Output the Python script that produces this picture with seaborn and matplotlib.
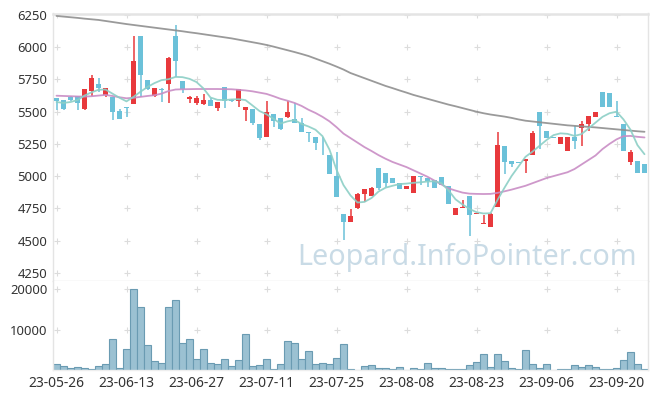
import numpy as np
import pandas as pd
import matplotlib
matplotlib.use("Agg")
import matplotlib.pyplot as plt
import seaborn as sns

# trading days (KRX calendar, holidays removed)
dates = pd.bdate_range("2023-05-26", "2023-09-26", freq="C",
                       holidays=["2023-05-29", "2023-06-06", "2023-08-15"])

open_p = [5605, 5588, 5617, 5619, 5518, 5658, 5712, 5632, 5611, 5505,
          5536, 5562, 6088, 5746, 5619, 5678, 5715, 6088, 5738, 5601,
          5570, 5562, 5591, 5531, 5691, 5590, 5585, 5513, 5518, 5404,
          5306, 5482, 5448, 5461, 5443, 5409, 5342, 5303, 5166, 5164,
          5000, 4706, 4646, 4750, 4858, 4843, 5063, 5021, 4983, 4944,
          4897, 4871, 4998, 4985, 4970, 4993, 4923, 4700, 4752, 4845,
          4703, 4628, 4607, 4762, 5233, 5117, 5101, 5119, 5163, 5500,
          5350, 5302, 5251, 5197, 5306, 5376, 5402, 5461, 5653, 5645,
          5468, 5404, 5112, 5117, 5094]
high_p = [5607, 5590, 5620, 5625, 5676, 5782, 5759, 5687, 5613, 5518,
          5537, 6088, 6088, 5748, 5681, 5680, 5927, 6174, 5740, 5619,
          5619, 5635, 5604, 5575, 5691, 5596, 5676, 5534, 5518, 5404,
          5580, 5482, 5448, 5585, 5570, 5448, 5342, 5303, 5300, 5164,
          5189, 4706, 4742, 4866, 4900, 4918, 5063, 5021, 4983, 4944,
          4923, 4998, 4998, 4985, 4970, 4995, 4923, 4755, 4812, 4845,
          4708, 4698, 4710, 5345, 5233, 5117, 5101, 5135, 5350, 5500,
          5350, 5302, 5301, 5301, 5392, 5428, 5466, 5497, 5653, 5645,
          5580, 5404, 5203, 5117, 5094]
low_p = [5515, 5510, 5585, 5510, 5516, 5622, 5656, 5611, 5435, 5446,
         5461, 5560, 5617, 5670, 5617, 5578, 5565, 5772, 5648, 5565,
         5549, 5552, 5547, 5508, 5531, 5578, 5539, 5430, 5397, 5280,
         5306, 5378, 5358, 5448, 5409, 5340, 5267, 5203, 5160, 5013,
         4840, 4504, 4646, 4745, 4796, 4843, 4892, 4918, 4944, 4897,
         4897, 4871, 4928, 4913, 4910, 4928, 4781, 4700, 4752, 4532,
         4703, 4628, 4607, 4760, 5016, 5068, 5099, 5026, 5163, 5207,
         5298, 5298, 5251, 5197, 5207, 5233, 5350, 5461, 5534, 5539,
         5461, 5197, 5083, 5021, 5027]
close_p = [5585, 5518, 5588, 5565, 5674, 5759, 5687, 5681, 5500, 5446,
           5530, 5894, 5785, 5676, 5681, 5670, 5917, 5894, 5674, 5614,
           5606, 5591, 5547, 5575, 5585, 5585, 5676, 5534, 5409, 5298,
           5495, 5428, 5363, 5495, 5409, 5340, 5332, 5254, 5160, 5013,
           4840, 4646, 4690, 4861, 4900, 4908, 4905, 4944, 4944, 4897,
           4923, 4998, 4993, 4964, 4910, 4928, 4781, 4755, 4760, 4698,
           4708, 4634, 4706, 5241, 5112, 5097, 5099, 5135, 5332, 5391,
           5298, 5298, 5301, 5301, 5275, 5402, 5466, 5497, 5534, 5539,
           5462, 5197, 5187, 5021, 5027]

ma5 = [5575, 5568, 5575, 5590, 5625, 5650, 5670, 5672, 5640, 5608,
       5580, 5615, 5655, 5692, 5722, 5745, 5752, 5770, 5768, 5755,
       5730, 5680, 5610, 5592, 5590, 5595, 5597, 5590, 5548, 5505,
       5480, 5445, 5408, 5425, 5435, 5405, 5385, 5360, 5310, 5205,
       5050, 4930, 4850, 4795, 4800, 4830, 4880, 4910, 4925, 4938,
       4942, 4948, 4952, 4958, 4960, 4945, 4890, 4820, 4780, 4745,
       4720, 4710, 4712, 4815, 4910, 5000, 5075, 5150, 5190, 5235,
       5280, 5318, 5332, 5328, 5312, 5326, 5370, 5415, 5460, 5488,
       5500, 5440, 5360, 5240, 5170]
ma20 = [5624, 5622, 5620, 5618, 5617, 5620, 5625, 5630, 5622, 5612,
        5604, 5608, 5615, 5622, 5628, 5640, 5660, 5672, 5674, 5675,
        5676, 5676, 5676, 5676, 5675, 5674, 5670, 5665, 5658, 5648,
        5638, 5620, 5600, 5585, 5568, 5545, 5515, 5490, 5460, 5425,
        5380, 5330, 5295, 5260, 5225, 5195, 5163, 5135, 5110, 5090,
        5070, 5045, 5020, 4995, 4965, 4935, 4905, 4888, 4872, 4864,
        4862, 4861, 4862, 4870, 4882, 4895, 4910, 4925, 4945, 4965,
        4985, 5000, 5015, 5030, 5055, 5090, 5125, 5160, 5210, 5250,
        5285, 5310, 5312, 5305, 5300]
ma120 = [6243, 6238, 6233, 6228, 6222, 6217, 6212, 6204, 6196, 6188,
         6180, 6173, 6166, 6159, 6152, 6145, 6138, 6131, 6124, 6116,
         6109, 6101, 6093, 6085, 6077, 6069, 6059, 6049, 6039, 6029,
         6018, 6005, 5991, 5977, 5963, 5948, 5932, 5912, 5892, 5872,
         5850, 5827, 5800, 5780, 5760, 5740, 5720, 5700, 5683, 5665,
         5648, 5630, 5615, 5600, 5585, 5570, 5555, 5542, 5528, 5514,
         5500, 5488, 5478, 5470, 5462, 5452, 5440, 5430, 5424, 5418,
         5412, 5406, 5400, 5394, 5390, 5386, 5382, 5378, 5373, 5368,
         5363, 5358, 5353, 5348, 5344]

volume = [1400, 900, 400, 660, 400, 170, 900, 1400, 7600, 400,
          5100, 20000, 15500, 6100, 2150, 1650, 15500, 17300, 6600, 7600,
          2650, 5100, 1650, 1400, 2650, 900, 2400, 8850, 900, 1150,
          2650, 170, 1400, 7100, 6600, 2650, 4600, 1400, 1650, 1400,
          2900, 6400, 170, 50, 900, 1150, 400, 400, 170, 660,
          50, 400, 170, 1650, 400, 400, 170, 170, 170, 1150,
          1900, 3900, 660, 3900, 2150, 400, 170, 4900, 1400, 400,
          1400, 50, 170, 170, 1150, 660, 1150, 660, 170, 170,
          400, 2400, 4400, 1400, 170]

price_ticks = [4250, 4500, 4750, 5000, 5250, 5500, 5750, 6000, 6250]
vol_ticks = [10000, 20000]

df = pd.DataFrame({"date": dates, "open": open_p, "high": high_p, "low": low_p,
                   "close": close_p, "ma5": ma5, "ma20": ma20, "ma120": ma120,
                   "volume": volume})
df["idx"] = np.arange(len(df))

UP = "#e8393c"
DOWN = "#6bc1d9"
GRID = "#dcdcdc"
FRAME = "#e4e4e4"

sns.set_theme(style="white")
plt.rcParams["font.family"] = ["Noto Sans", "DejaVu Sans"]

fig = plt.figure(figsize=(6.57, 3.99), dpi=100)
W, H = 657, 399
ax = fig.add_axes([53 / W, 1 - 281 / H, 595 / W, (281 - 13.5) / H])
axv = fig.add_axes([53 / W, 1 - 370 / H, 595 / W, (370 - 281) / H])

xticks = list(range(0, len(df), 10))

# ---- price panel
up = df["close"] >= df["open"]
colors = np.where(up, UP, DOWN)
body_lo = np.minimum(df["open"], df["close"])
body_h = np.maximum((df["close"] - df["open"]).abs(), 7)
ax.vlines(df["idx"], df["low"], df["high"], colors=colors, lw=1.1, zorder=2)
ax.bar(df["idx"], body_h, bottom=body_lo, width=0.68, color=colors,
       linewidth=0, zorder=3)

sns.lineplot(data=df, x="idx", y="ma120", ax=ax, color="#8f8f8f", lw=1.3,
             alpha=0.9, zorder=4)
sns.lineplot(data=df, x="idx", y="ma20", ax=ax, color="#c98dc5", lw=1.3,
             alpha=0.9, zorder=4)
sns.lineplot(data=df, x="idx", y="ma5", ax=ax, color="#8ccfc6", lw=1.3,
             alpha=0.9, zorder=4)

gx, gy = np.meshgrid(xticks, price_ticks)
ax.scatter(gx.ravel(), gy.ravel(), marker="+", s=22, color=GRID, lw=0.8,
           zorder=1)

ax.set_xlim(-0.5, len(df) - 0.5)
ax.set_ylim(4186, 6262)
ax.set_yticks(price_ticks)
ax.set_xticks([])
ax.set_xlabel("")
ax.set_ylabel("")

ax.text(467 / W, 1 - 257 / H, "Leopard.InfoPointer.com", transform=fig.transFigure,
        ha="center", va="center", fontsize=20.7, color="#c9dbe6", zorder=0.5)

# ---- volume panel
sns.barplot(data=df, x="idx", y="volume", ax=axv, color="#9bc1d2",
            edgecolor="#6a9bb2", linewidth=0.8, width=1.0, saturation=1,
            native_scale=True, zorder=2)
gx, gy = np.meshgrid(xticks, vol_ticks)
axv.scatter(gx.ravel(), gy.ravel(), marker="+", s=22, color=GRID, lw=0.8,
            zorder=1)
axv.set_xlim(-0.5, len(df) - 0.5)
axv.set_ylim(0, 22070)
axv.set_yticks(vol_ticks)
axv.set_xticks(xticks)
axv.set_xticklabels([d.strftime("%y-%m-%d") for d in df["date"].iloc[xticks]])
axv.set_xlabel("")
axv.set_ylabel("")

for a in (ax, axv):
    a.set_facecolor("white")
    a.tick_params(length=0, labelsize=9.4, labelcolor="#333333", pad=4)
    for s in a.spines.values():
        s.set_color(FRAME)
        s.set_linewidth(1.0)
axv.tick_params(axis="x", labelsize=10, pad=4.5)
ax.spines["top"].set_linewidth(1.8)
axv.spines["top"].set_visible(False)
axv.spines["bottom"].set_color("#eeeeee")

fig.savefig("out.png", dpi=100, facecolor="white")
